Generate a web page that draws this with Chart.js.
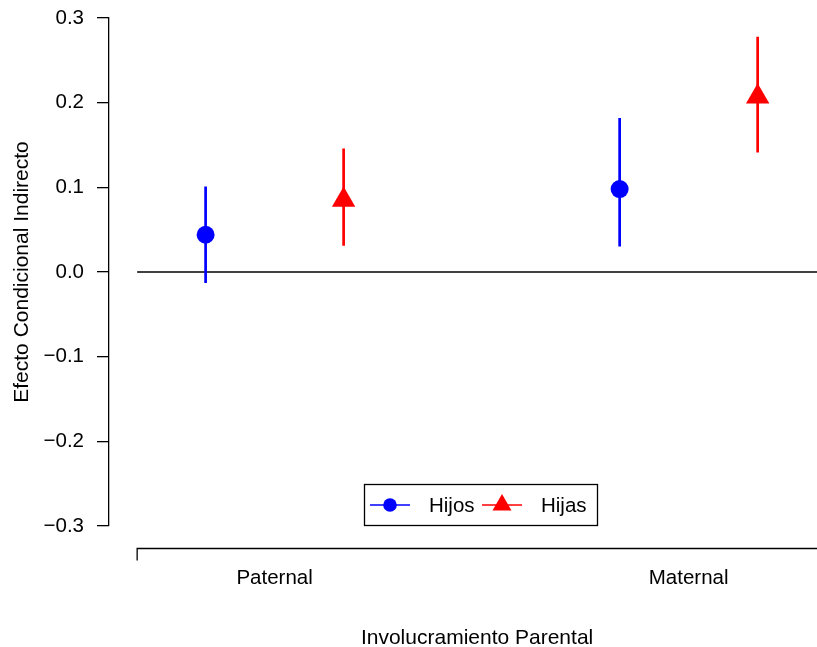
<!DOCTYPE html>
<html>
<head>
<meta charset="utf-8">
<script src="https://cdn.jsdelivr.net/npm/chart.js@4"></script>
<style>
  html, body { margin: 0; padding: 0; background: #fff; }
</style>
</head>
<body>
<canvas id="effectChart" width="817" height="647"></canvas>
<script>
// data
const categories = ["Paternal", "Maternal"];
const seriesNames = ["Hijos", "Hijas"];
const hijosEst = [0.044, 0.098];
const hijosLow = [-0.013, 0.030];
const hijosHigh = [0.101, 0.182];
const hijasEst = [0.085, 0.207];
const hijasLow = [0.031, 0.141];
const hijasHigh = [0.146, 0.278];
const yTicks = [-0.3, -0.2, -0.1, 0.0, 0.1, 0.2, 0.3];
const xTitle = "Involucramiento Parental";

const FONT = "'Liberation Sans', Arial, sans-serif";
const BLUE = "#0000ff";
const RED = "#ff0000";
const dodge = 1 / 6;      // side offset of each group inside a category
const plotStart = 0.668;  // where the R plot region begins

function toPoints(est, shift) {
  return est.map((v, i) => ({ x: i + 1 + shift, y: v }));
}

// each interval as a two point segment, separated by gaps
function toIntervals(lo, hi, shift) {
  const out = [];
  lo.forEach((v, i) => {
    const x = i + 1 + shift;
    out.push({ x: x, y: v }, { x: x, y: hi[i] }, { x: x, y: null });
  });
  return out;
}

// zero line, the detached bottom axis line and the x title
const axisPlugin = {
  id: "rAxes",
  beforeDatasetsDraw(chart) {
    const { ctx, chartArea } = chart;
    const x0 = chart.scales.x.getPixelForValue(plotStart);
    const y0 = chart.scales.y.getPixelForValue(0);
    ctx.save();
    ctx.strokeStyle = "#000";
    ctx.lineWidth = 1.5;
    ctx.beginPath();
    ctx.moveTo(x0, y0);
    ctx.lineTo(chartArea.right, y0);
    ctx.stroke();

    const ya = chartArea.bottom + 22.5;
    ctx.lineWidth = 1.3;
    ctx.beginPath();
    ctx.moveTo(x0, ya + 12);
    ctx.lineTo(x0, ya);
    ctx.lineTo(chartArea.right, ya);
    ctx.stroke();

    // R centres xlab on the plot region, not on the whole axis box
    ctx.fillStyle = "#000";
    ctx.font = "21px " + FONT;
    ctx.textAlign = "center";
    ctx.textBaseline = "alphabetic";
    ctx.fillText(xTitle, (x0 + chartArea.right) / 2, chartArea.bottom + 118);
    ctx.restore();
  }
};

// boxed legend in the style of R's legend()
const legendPlugin = {
  id: "rLegend",
  afterDraw(chart) {
    const ctx = chart.ctx;
    const box = { left: 364.5, top: 484.5, width: 233, height: 41 };
    const cy = box.top + box.height / 2;
    const items = [
      { name: seriesNames[0], color: BLUE, shape: "circle", lineX: 370 },
      { name: seriesNames[1], color: RED, shape: "triangle", lineX: 482 }
    ];
    ctx.save();
    ctx.fillStyle = "#fff";
    ctx.fillRect(box.left, box.top, box.width, box.height);
    ctx.strokeStyle = "#000";
    ctx.lineWidth = 1.3;
    ctx.strokeRect(box.left, box.top, box.width, box.height);

    items.forEach(item => {
      const mx = item.lineX + 20;
      ctx.strokeStyle = item.color;
      ctx.fillStyle = item.color;
      ctx.lineWidth = 1.4;
      ctx.beginPath();
      ctx.moveTo(item.lineX, cy);
      ctx.lineTo(item.lineX + 40, cy);
      ctx.stroke();
      ctx.beginPath();
      if (item.shape === "circle") {
        ctx.arc(mx, cy, 6.8, 0, Math.PI * 2);
      } else {
        const r = 11;
        ctx.moveTo(mx, cy - r);
        ctx.lineTo(mx + r * 0.866, cy + r / 2);
        ctx.lineTo(mx - r * 0.866, cy + r / 2);
        ctx.closePath();
      }
      ctx.fill();

      ctx.fillStyle = "#000";
      ctx.font = "20.5px " + FONT;
      ctx.textBaseline = "middle";
      ctx.textAlign = "left";
      ctx.fillText(item.name, item.lineX + 59, cy + 1);
    });
    ctx.restore();
  }
};

const ctx = document.getElementById("effectChart").getContext("2d");

new Chart(ctx, {
  type: "scatter",
  data: {
    datasets: [
      {
        label: seriesNames[0] + " IC",
        data: toIntervals(hijosLow, hijosHigh, -dodge),
        showLine: true,
        spanGaps: false,
        borderColor: BLUE,
        borderWidth: 2.7,
        pointRadius: 0,
        order: 2
      },
      {
        label: seriesNames[1] + " IC",
        data: toIntervals(hijasLow, hijasHigh, dodge),
        showLine: true,
        spanGaps: false,
        borderColor: RED,
        borderWidth: 2.7,
        pointRadius: 0,
        order: 2
      },
      {
        label: seriesNames[0],
        data: toPoints(hijosEst, -dodge),
        pointStyle: "circle",
        pointRadius: 9,
        pointBackgroundColor: BLUE,
        pointBorderColor: BLUE,
        pointBorderWidth: 0,
        order: 1
      },
      {
        label: seriesNames[1],
        data: toPoints(hijasEst, dodge),
        pointStyle: "triangle",
        pointRadius: 13.5,
        pointBackgroundColor: RED,
        pointBorderColor: RED,
        pointBorderWidth: 0,
        order: 1
      }
    ]
  },
  options: {
    responsive: false,
    animation: false,
    layout: {
      autoPadding: false,
      padding: { top: 18, left: 0, right: 0, bottom: 0 }
    },
    plugins: {
      legend: { display: false },
      tooltip: { enabled: false }
    },
    scales: {
      x: {
        type: "linear",
        min: 0.6,
        max: 2.31,
        afterFit(scale) {
          scale.height = 121;
          scale.paddingLeft = 0;
          scale.paddingRight = 0;
        },
        afterBuildTicks(scale) {
          scale.ticks = categories.map((c, i) => ({ value: i + 1 }));
        },
        ticks: {
          color: "#000",
          font: { family: FONT, size: 20.5 },
          padding: 40,
          autoSkip: false,
          maxRotation: 0,
          callback: v => categories[v - 1]
        },
        grid: { display: false, drawTicks: false },
        border: { display: false },
        title: { display: false }
      },
      y: {
        min: -0.3,
        max: 0.3,
        afterFit(scale) {
          scale.width = 109;
          scale.paddingTop = 0;
          scale.paddingBottom = 0;
        },
        afterBuildTicks(scale) {
          scale.ticks = yTicks.map(v => ({ value: v }));
        },
        ticks: {
          color: "#000",
          font: { family: FONT, size: 20.5 },
          padding: 13,
          callback: v => (v < 0 ? "\u2212" : "") + Math.abs(v).toFixed(1)
        },
        grid: {
          drawOnChartArea: false,
          drawTicks: true,
          tickLength: 12,
          color: "#000",
          lineWidth: 1.3
        },
        border: { display: true, color: "#000", width: 1.3 },
        title: {
          display: true,
          text: "Efecto Condicional Indirecto",
          color: "#000",
          font: { family: FONT, size: 21 },
          padding: { top: 10, bottom: 0 }
        }
      }
    }
  },
  plugins: [axisPlugin, legendPlugin]
});
</script>
</body>
</html>
